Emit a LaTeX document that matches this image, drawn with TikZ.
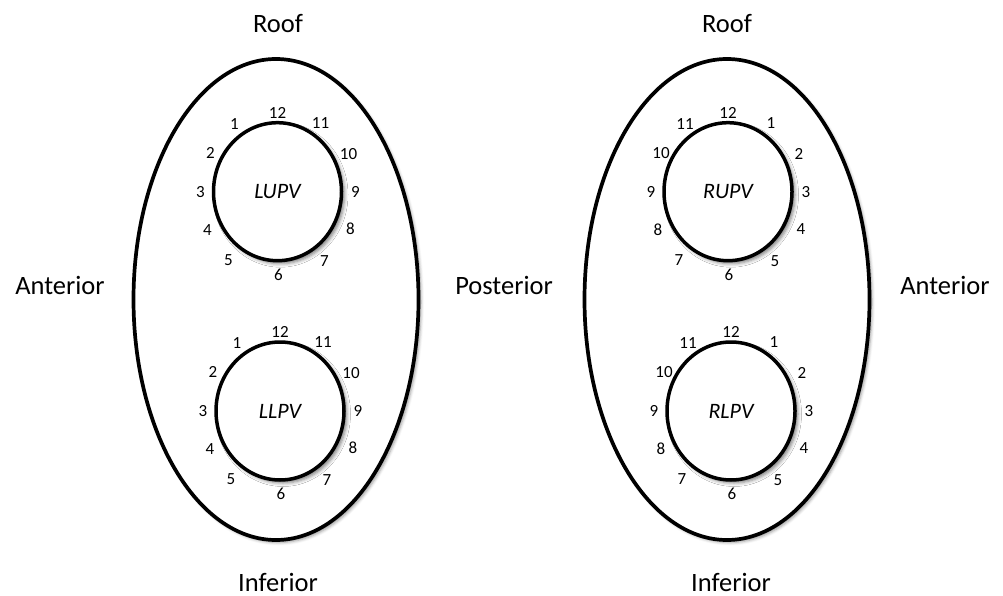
\documentclass[tikz,border=0pt]{standalone}
\usepackage{fontspec}
\setmainfont{Carlito}
\usetikzlibrary{shapes.geometric,calc,shadows.blur}
\tikzset{
  atrium/.style={ellipse, draw, line width=3.7pt, fill=white, inner sep=0pt,
    minimum width=285pt, minimum height=481pt,
    blur shadow={shadow xshift=2.5pt, shadow yshift=-2.5pt, shadow blur radius=3pt, shadow opacity=40}},
  vein/.style={ellipse, draw, line width=3.5pt, fill=white, inner sep=0pt,
    minimum width=128pt, minimum height=138pt,
    font=\fontsize{22}{26}\selectfont\itshape,
    blur shadow={shadow xshift=3pt, shadow yshift=-3pt, shadow blur radius=3.5pt, shadow opacity=50}},
  clock/.style={inner sep=0pt, font=\fontsize{17}{20}\selectfont},
  side/.style={inner sep=0pt, font=\fontsize{26.5}{30}\selectfont}
}
\begin{document}
\begin{tikzpicture}[x=1pt,y=-1pt]
\useasboundingbox (0,0) rectangle (1003,596);
% atria
\node[atrium] (LA) at (276,299.5) {};
\node[atrium] (RA) at (727,299.5) {};
% veins
\node[vein] (LUPV) at (277.5,191.7) {LUPV};
\node[vein] (LLPV) at (280,411) {LLPV};
\node[vein] (RUPV) at (728,191.7) {RUPV};
\node[vein] (RLPV) at (731,411) {RLPV};
% clock labels: slot p clockwise from the top
\foreach \p/\dx/\dy in {0/0/-79, 1/43/-69, 2/71/-38, 3/78/0, 4/73/37, 5/47/69,
                        6/1/83, 7/-49/68, 8/-70/38, 9/-77/0, 10/-67/-39, 11/-43/-68}{
  \pgfmathtruncatemacro\nl{\p==0 ? 12 : 12-\p}
  \pgfmathtruncatemacro\nr{\p==0 ? 12 : \p}
  \node[clock] (lu\nl) at ($(LUPV.center)+(\dx,\dy)$) {\nl};
  \node[clock] (ll\nl) at ($(LLPV.center)+(\dx,\dy)$) {\nl};
  \node[clock] (ru\nr) at ($(RUPV.center)+(\dx,\dy)$) {\nr};
  \node[clock] (rl\nr) at ($(RLPV.center)+(\dx,\dy)$) {\nr};
}
% side labels
\node[side] (roofL) at (278,24) {Roof};
\node[side] (roofR) at (727,24) {Roof};
\node[side] (infL) at (278,582) {Inferior};
\node[side] (infR) at (731,582) {Inferior};
\node[side] (antL) at (60,285) {Anterior};
\node[side] (post) at (504,285) {Posterior};
\node[side] (antR) at (945,285) {Anterior};
\end{tikzpicture}
\end{document}
